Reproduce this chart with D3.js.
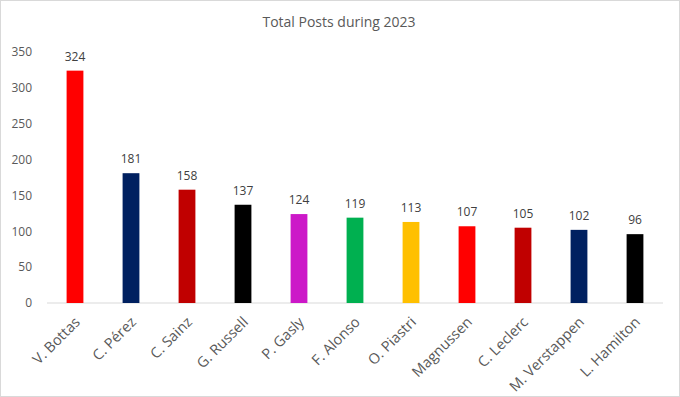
<!DOCTYPE html>
<html>
<head>
<meta charset="utf-8">
<script src="https://cdn.jsdelivr.net/npm/d3@7"></script>
<style>
  body { margin: 0; background: #fff; }
  svg { display: block; font-family: "Open Sans", "Liberation Sans", sans-serif; }
</style>
</head>
<body>
<svg id="chart" width="680" height="397"></svg>
<script>
// data
drivers = ['V. Bottas', 'C. Pérez', 'C. Sainz', 'G. Russell', 'P. Gasly', 'F. Alonso',
	'O. Piastri', 'Magnussen', 'C. Leclerc', 'M. Verstappen', 'L. Hamilton'];
posts = [324, 181, 158, 137, 124, 119, 113, 107, 105, 102, 96];
barColors = ['#FF0000', '#002060', '#C00000', '#000000', '#CC18C8', '#00B050',
	'#FFC000', '#FF0000', '#C00000', '#002060', '#000000'];
yTicks = [0, 50, 100, 150, 200, 250, 300, 350];

width = 680;
height = 397;
plotLeft = 47;
plotRight = 663;
plotTop = 52;
plotBottom = 303;

svg = d3.select('#chart');

// chart border
svg.append('rect')
	.attr('x', 0.5).attr('y', 0.5)
	.attr('width', width - 1).attr('height', height - 1)
	.attr('fill', '#fff')
	.attr('stroke', '#d9d9d9');

x = d3.scaleBand()
	.domain(drivers)
	.range([plotLeft, plotRight])
	.paddingInner(0.7)
	.paddingOuter(0.35);

y = d3.scaleLinear()
	.domain([0, 350])
	.range([plotBottom, plotTop]);

svg.append('text')
	.attr('x', 339)
	.attr('y', 27)
	.attr('text-anchor', 'middle')
	.attr('fill', '#595959')
	.style('font-size', '14px')
	.text('Total Posts during 2023');

// y axis labels (no line)
yAxis = svg.append('g')
	.attr('transform', `translate(${plotLeft},0)`)
	.call(d3.axisLeft(y).tickValues(yTicks).tickSize(0).tickPadding(15));
yAxis.select('.domain').remove();
yAxis.selectAll('text')
	.attr('fill', '#595959')
	.style('font-size', '12px')
	.style('font-family', '"Open Sans", "Liberation Sans", sans-serif');

// baseline
svg.append('line')
	.attr('x1', plotLeft).attr('x2', plotRight)
	.attr('y1', y(0)).attr('y2', y(0))
	.attr('stroke', '#d9d9d9')
	.attr('stroke-width', 1);

bars = svg.append('g');
bars.selectAll('rect')
	.data(posts)
	.join('rect')
		.attr('x', (d, i) => x(drivers[i]))
		.attr('y', d => y(d))
		.attr('width', x.bandwidth())
		.attr('height', d => y(0) - y(d))
		.attr('fill', (d, i) => barColors[i]);

bars.selectAll('text')
	.data(posts)
	.join('text')
		.attr('x', (d, i) => x(drivers[i]) + x.bandwidth() / 2)
		.attr('y', d => y(d) - 10)
		.attr('text-anchor', 'middle')
		.attr('fill', '#404040')
		.style('font-size', '12px')
		.text(d => d);

// x axis labels rotated
xAxis = svg.append('g')
	.attr('transform', `translate(0,${plotBottom})`)
	.call(d3.axisBottom(x).tickSize(0).tickPadding(0));
xAxis.select('.domain').remove();
xAxis.selectAll('text')
	.attr('fill', '#595959')
	.attr('text-anchor', 'end')
	.attr('dy', 0)
	.attr('y', 0)
	.attr('transform', 'translate(6,20) rotate(-45)')
	.style('font-size', '14.5px')
	.style('font-family', '"Open Sans", "Liberation Sans", sans-serif');
</script>
</body>
</html>
